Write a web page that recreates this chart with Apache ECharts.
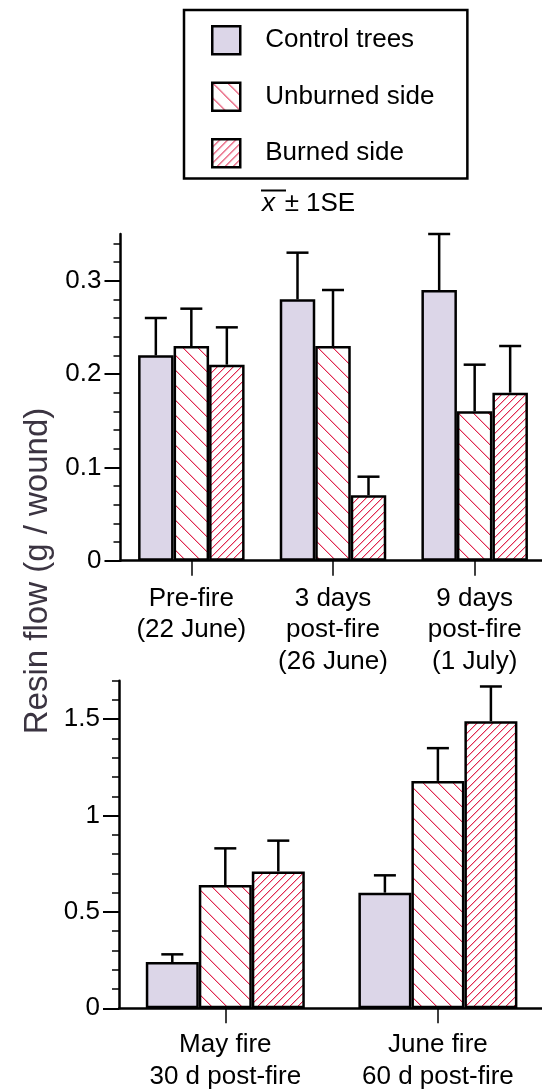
<!DOCTYPE html>
<html><head><meta charset="utf-8">
<script src="https://cdn.jsdelivr.net/npm/echarts@6/dist/echarts.min.js"></script>
<style>html,body{margin:0;padding:0;background:#fff}#c{width:542px;height:1091px}</style>
</head><body><div id="c"></div>
<script>
// ---------- data ----------
const seriesNames = ['Control trees', 'Unburned side', 'Burned side'];

const topCategories = ['Pre-fire\n(22 June)', '3 days\npost-fire\n(26 June)', '9 days\npost-fire\n(1 July)'];
const topControl   = [0.22, 0.28, 0.29];
const topControlSE = [0.04, 0.05, 0.06];
const topUnburned   = [0.23, 0.23, 0.16];
const topUnburnedSE = [0.04, 0.06, 0.05];
const topBurned   = [0.21, 0.07, 0.18];
const topBurnedSE = [0.04, 0.02, 0.05];

const botCategories = ['May fire\n30 d post-fire', 'June fire\n60 d post-fire'];
const botControl   = [0.24, 0.60];
const botControlSE = [0.04, 0.09];
const botUnburned   = [0.64, 1.18];
const botUnburnedSE = [0.19, 0.17];
const botBurned   = [0.71, 1.49];
const botBurnedSE = [0.16, 0.18];

const topMajorTicks = [0, 0.1, 0.2, 0.3];
const topMinorTicks = [0.02, 0.04, 0.06, 0.08, 0.12, 0.14, 0.16, 0.18, 0.22, 0.24, 0.26, 0.28, 0.32, 0.34];
const botMajorTicks = [0, 0.5, 1, 1.5];
const botMinorTicks = [0.1, 0.2, 0.3, 0.4, 0.6, 0.7, 0.8, 0.9, 1.1, 1.2, 1.3, 1.4, 1.6, 1.7];

// ---------- styles ----------
const FONT = '"Liberation Sans", Arial, Helvetica, sans-serif';
function hatch(p, dir) {
  const c = document.createElement('canvas');
  c.width = p; c.height = p;
  const g = c.getContext('2d');
  g.fillStyle = '#fff'; g.fillRect(0, 0, p, p);
  for (let i = 0; i < p; i++) {
    const y = dir === 'back' ? i : (p - 1 - i);
    const x2 = (i + 1) % p;
    g.fillStyle = '#f4b3c2'; g.fillRect(x2, y, 1, 1);
    g.fillStyle = '#e0284f'; g.fillRect(i, y, 1, 1);
  }
  return { image: c, repeat: 'repeat' };
}
const fills = ['#dcd6e8', hatch(15, 'back'), hatch(8, 'fwd')];

const chart = echarts.init(document.getElementById('c'), null, { renderer: 'canvas' });

const TOP_BW = 35.5, BOT_BW = 53, CAP = 22;

function errRender(offsetIdx, barW) {
  return function (params, api) {
    const b = api.coord([api.value(0), api.value(1)]);
    const t = api.coord([api.value(0), api.value(2)]);
    const x = b[0] + (offsetIdx - 1) * barW;
    return {
      type: 'group',
      children: [
        { type: 'line', shape: { x1: x, y1: b[1], x2: x, y2: t[1] }, style: { stroke: '#000', lineWidth: 2.5 } },
        { type: 'line', shape: { x1: x - CAP / 2, y1: t[1], x2: x + CAP / 2, y2: t[1] }, style: { stroke: '#000', lineWidth: 2.5 } }
      ]
    };
  };
}

function barSeries(i, vals, grid, bw) {
  return {
    name: seriesNames[i], type: 'bar', xAxisIndex: grid, yAxisIndex: grid * 2,
    data: vals, barWidth: bw, barGap: '0%',
    itemStyle: { color: fills[i], borderColor: '#000', borderWidth: 2.5 },
    emphasis: { disabled: true }, z: 2
  };
}
function errSeries(i, vals, ses, grid, bw) {
  return {
    name: 'err' + grid + i, type: 'custom', xAxisIndex: grid, yAxisIndex: grid * 2,
    data: vals.map((v, k) => [k, v, v + ses[k]]),
    renderItem: errRender(i, bw), z: 4, silent: true
  };
}

function yAxes(grid, max, major, minor) {
  const labelFmt = v => String(v);
  return [
    {
      type: 'value', gridIndex: grid, min: 0, max: max, position: 'left',
      splitLine: { show: false },
      axisLine: { show: true, lineStyle: { color: '#000', width: 2.5 } },
      axisTick: { show: true, length: 16, customValues: major, lineStyle: { color: '#000', width: 2 } },
      axisLabel: { customValues: major, formatter: labelFmt, fontSize: 26, fontFamily: FONT, color: '#000', margin: 19 }
    },
    {
      type: 'value', gridIndex: grid, min: 0, max: max, position: 'left',
      splitLine: { show: false },
      axisLine: { show: false },
      axisTick: { show: true, length: 7, customValues: minor, lineStyle: { color: '#000', width: 1.5 } },
      axisLabel: { show: false }
    }
  ];
}

function xAxis(grid, cats, margin) {
  return {
    type: 'category', gridIndex: grid, data: cats,
    axisLine: { show: true, lineStyle: { color: '#000', width: 2.5 } },
    axisTick: { show: true, alignWithLabel: true, length: 15, lineStyle: { color: '#000', width: 1.5 } },
    axisLabel: { fontSize: 26, fontFamily: FONT, color: '#000', margin: margin, lineHeight: 31.5, interval: 0 },
    splitLine: { show: false }
  };
}

const option = {
  backgroundColor: '#fff',
  animation: false,
  grid: [
    { left: 120.5, top: 234, width: 425, height: 326.7, outerBoundsMode: 'none', containLabel: false },
    { left: 119, top: 680.7, width: 425.2, height: 327.6, outerBoundsMode: 'none', containLabel: false }
  ],
  xAxis: [xAxis(0, topCategories, 22), xAxis(1, botCategories, 21)],
  yAxis: [].concat(yAxes(0, 0.35, topMajorTicks, topMinorTicks), yAxes(1, 1.7, botMajorTicks, botMinorTicks)),
  legend: {
    data: seriesNames, orient: 'vertical', left: 184, top: 10,
    padding: [15, 33, 10, 27], itemWidth: 28, itemHeight: 28, itemGap: 26,
    borderColor: '#000', borderWidth: 2.5, icon: 'rect', selectedMode: false,
    itemStyle: { borderColor: '#000', borderWidth: 2.5 },
    textStyle: { fontSize: 26, fontFamily: FONT, color: '#000', padding: [0, 0, 0, 20], lineHeight: 28 }
  },
  graphic: [
    { type: 'text', x: 38, y: 571, rotation: Math.PI / 2,
      style: { text: 'Resin flow (g / wound)', font: '33px ' + FONT, fill: '#3b3441', align: 'center', verticalAlign: 'middle' } },
    { type: 'text', x: 262, y: 204,
      style: { text: 'x', font: 'italic 26px ' + FONT, fill: '#000', align: 'left', verticalAlign: 'middle' } },
    { type: 'line', shape: { x1: 261, y1: 190.5, x2: 286, y2: 190.5 }, style: { stroke: '#000', lineWidth: 2 } },
    { type: 'text', x: 292, y: 204,
      style: { text: '±', font: '26px ' + FONT, fill: '#000', align: 'center', verticalAlign: 'middle' } },
    { type: 'text', x: 306, y: 204,
      style: { text: '1SE', font: '26px ' + FONT, fill: '#000', align: 'left', verticalAlign: 'middle' } }
  ],
  series: [
    barSeries(0, topControl, 0, TOP_BW),
    barSeries(1, topUnburned, 0, TOP_BW),
    barSeries(2, topBurned, 0, TOP_BW),
    errSeries(0, topControl, topControlSE, 0, TOP_BW),
    errSeries(1, topUnburned, topUnburnedSE, 0, TOP_BW),
    errSeries(2, topBurned, topBurnedSE, 0, TOP_BW),
    barSeries(0, botControl, 1, BOT_BW),
    barSeries(1, botUnburned, 1, BOT_BW),
    barSeries(2, botBurned, 1, BOT_BW),
    errSeries(0, botControl, botControlSE, 1, BOT_BW),
    errSeries(1, botUnburned, botUnburnedSE, 1, BOT_BW),
    errSeries(2, botBurned, botBurnedSE, 1, BOT_BW)
  ]
};
chart.setOption(option);
</script>
</body></html>
